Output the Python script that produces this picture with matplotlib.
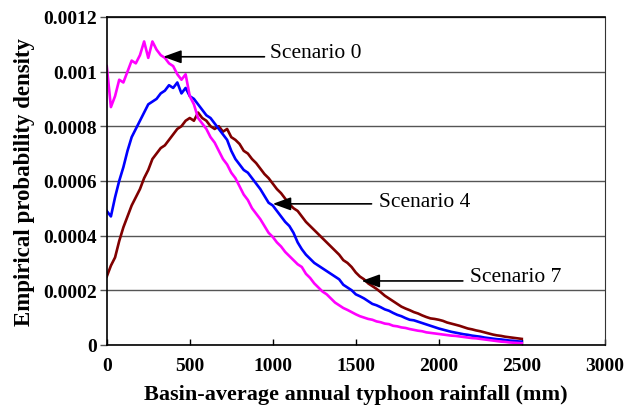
import matplotlib.pyplot as plt
import numpy as np

# rainfall grid (mm) and densities (units of 1e-4)
rainfall = list(range(0, 2525, 25))

scenario0 = [10.2, 8.7, 9.1, 9.7, 9.6, 10.0, 10.4, 10.3, 10.6, 11.1,
             10.5, 11.1, 10.8, 10.6, 10.5, 10.3, 10.2, 9.9, 9.7, 9.9,
             9.1, 8.8, 8.3, 8.1, 7.9, 7.6, 7.4, 7.1, 6.8, 6.6,
             6.3, 6.1, 5.8, 5.5, 5.3, 5.0, 4.8, 4.6, 4.35, 4.1,
             3.95, 3.75, 3.6, 3.4, 3.25, 3.1, 2.95, 2.85, 2.6, 2.45,
             2.25, 2.1, 1.95, 1.85, 1.7, 1.55, 1.45, 1.35, 1.28, 1.2,
             1.12, 1.05, 1.0, 0.95, 0.92, 0.86, 0.83, 0.78, 0.76, 0.70,
             0.68, 0.64, 0.62, 0.58, 0.55, 0.52, 0.50, 0.46, 0.44, 0.42,
             0.40, 0.38, 0.36, 0.34, 0.33, 0.31, 0.29, 0.27, 0.25, 0.24,
             0.22, 0.20, 0.18, 0.16, 0.14, 0.12, 0.11, 0.09, 0.08, 0.07,
             0.06]

scenario4 = [4.9, 4.7, 5.4, 6.0, 6.5, 7.1, 7.6, 7.9, 8.2, 8.5,
             8.8, 8.9, 9.0, 9.2, 9.3, 9.5, 9.4, 9.6, 9.2, 9.4,
             9.1, 9.0, 8.8, 8.6, 8.4, 8.3, 8.1, 7.9, 7.7, 7.5,
             7.1, 6.8, 6.6, 6.4, 6.3, 6.1, 5.9, 5.7, 5.45, 5.2,
             5.1, 4.9, 4.7, 4.5, 4.35, 4.1, 3.75, 3.5, 3.3, 3.15,
             3.0, 2.9, 2.8, 2.7, 2.6, 2.5, 2.4, 2.2, 2.1, 2.0,
             1.85, 1.78, 1.7, 1.6, 1.5, 1.45, 1.38, 1.3, 1.25, 1.17,
             1.1, 1.05, 0.98, 0.92, 0.9, 0.85, 0.80, 0.75, 0.70, 0.65,
             0.60, 0.56, 0.52, 0.48, 0.45, 0.42, 0.39, 0.37, 0.34, 0.32,
             0.30, 0.27, 0.25, 0.23, 0.21, 0.20, 0.18, 0.16, 0.15, 0.13,
             0.12]

scenario7 = [2.5, 2.9, 3.2, 3.8, 4.3, 4.7, 5.1, 5.4, 5.7, 6.1,
             6.4, 6.8, 7.0, 7.2, 7.3, 7.5, 7.7, 7.9, 8.0, 8.2,
             8.3, 8.2, 8.5, 8.3, 8.2, 8.0, 7.9, 8.0, 7.8, 7.9,
             7.6, 7.5, 7.35, 7.1, 7.0, 6.8, 6.65, 6.45, 6.25, 6.1,
             5.9, 5.7, 5.55, 5.35, 5.15, 5.0, 4.9, 4.7, 4.5, 4.35,
             4.2, 4.05, 3.9, 3.75, 3.6, 3.45, 3.3, 3.1, 3.0, 2.85,
             2.65, 2.5, 2.4, 2.25, 2.15, 2.05, 1.93, 1.8, 1.7, 1.6,
             1.5, 1.4, 1.33, 1.27, 1.2, 1.15, 1.08, 1.02, 0.97, 0.95,
             0.92, 0.88, 0.82, 0.78, 0.74, 0.70, 0.65, 0.60, 0.57, 0.53,
             0.50, 0.46, 0.42, 0.38, 0.35, 0.33, 0.30, 0.28, 0.26, 0.24,
             0.22]

xticks = [0, 500, 1000, 1500, 2000, 2500, 3000]
yticks = [0, 0.0002, 0.0004, 0.0006, 0.0008, 0.001, 0.0012]
ytick_labels = ['0', '0.0002', '0.0004', '0.0006', '0.0008', '0.001', '0.0012']

# labels: (text, text x, text y, arrow tail x, arrow tip x, arrow y)
annotations = [
    ('Scenario 0', 985, 0.00107, 950, 340, 0.001054),
    ('Scenario 4', 1640, 0.000525, 1595, 1000, 0.000516),
    ('Scenario 7', 2190, 0.000252, 2145, 1535, 0.000234),
]

plt.rcParams['font.family'] = ['Liberation Serif', 'DejaVu Serif']

fig = plt.figure(figsize=(6.28, 4.06), dpi=100)
ax = fig.add_axes([0.170, 0.148, 0.793, 0.808])

scale = 1e-4
ax.plot(rainfall, np.array(scenario7) * scale, color='#800000', lw=1.9)
ax.plot(rainfall, np.array(scenario4) * scale, color='#0000FF', lw=1.9)
ax.plot(rainfall, np.array(scenario0) * scale, color='#FF00FF', lw=1.9)

for label, tx, ty, x0, x1, ay in annotations:
    ax.annotate('', xy=(x1, ay), xytext=(x0, ay),
                arrowprops=dict(arrowstyle='-|>,head_length=0.55,head_width=0.2',
                                mutation_scale=20, color='black', lw=1.2,
                                shrinkA=0, shrinkB=0))
    ax.text(tx, ty, label, fontsize=15.5, va='center', ha='left')

ax.set_xlim(0, 3000)
ax.set_ylim(0, 0.0012)
ax.set_xticks(xticks)
ax.set_yticks(yticks)
ax.set_yticklabels(ytick_labels)
ax.yaxis.grid(True, color='#555555', lw=1)
ax.set_axisbelow(True)

ax.tick_params(axis='x', direction='in', length=4, width=1, pad=9, labelsize=14)
ax.tick_params(axis='y', direction='out', length=5, width=1, color='#555555',
               pad=2, labelsize=14)
for lbl in ax.get_xticklabels() + ax.get_yticklabels():
    lbl.set_fontweight('bold')

for side in ['left', 'bottom', 'top']:
    ax.spines[side].set_color('black')
    ax.spines[side].set_linewidth(1.2)
ax.spines['right'].set_color('#333333')

ax.set_xlabel('Basin-average annual typhoon rainfall (mm)', fontsize=16,
              fontweight='bold', labelpad=7)
ax.set_ylabel('Empirical probability density', fontsize=16.5,
              fontweight='bold', labelpad=6)

plt.savefig('out.png', dpi=100)
